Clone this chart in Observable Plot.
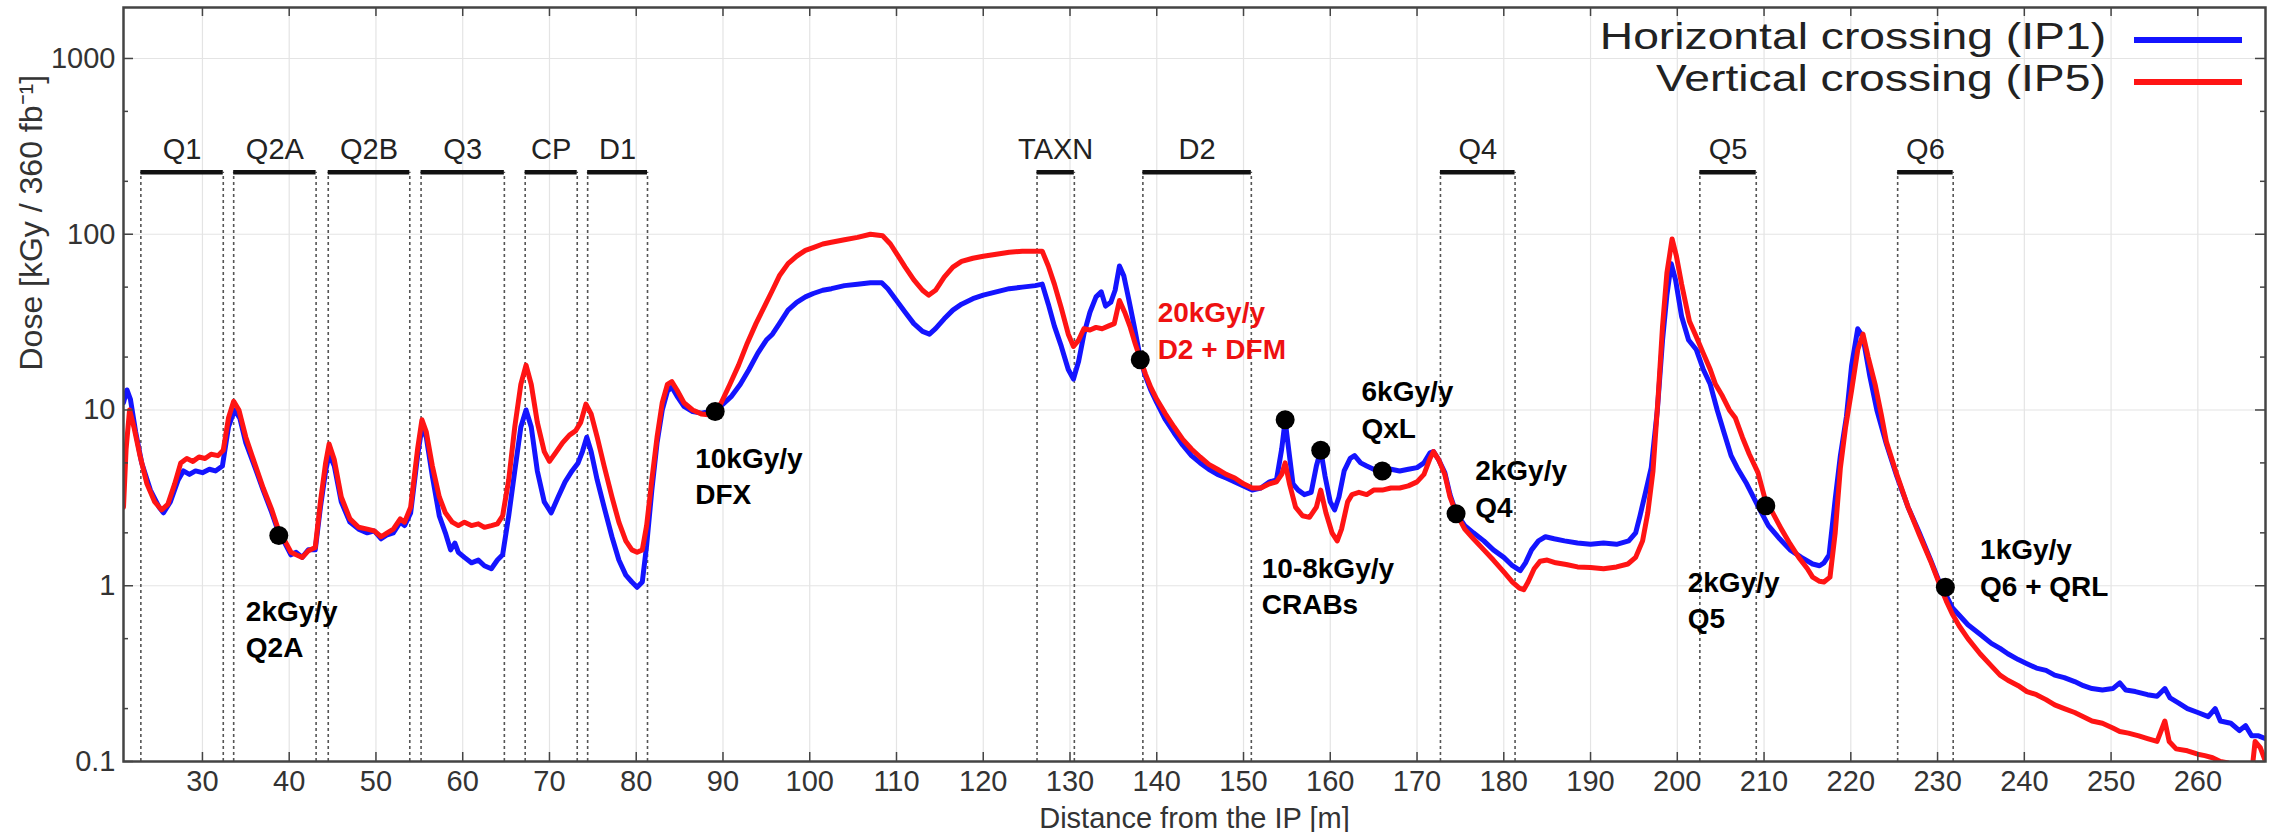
<!DOCTYPE html>
<html>
<head>
<meta charset="utf-8">
<script src="https://cdn.jsdelivr.net/npm/d3@7"></script>
<script src="https://cdn.jsdelivr.net/npm/@observablehq/plot@0.6"></script>
<style>
  html, body { margin: 0; padding: 0; background: #fff; }
  #wrap { position: relative; width: 2273px; height: 832px; font-family: "Liberation Sans", Arial, Helvetica, sans-serif; }
  #legend { position: absolute; top: 16px; right: 31px; font-size: 37px; line-height: 42px; color: #222; }
  #legend .row { display: flex; justify-content: flex-end; align-items: center; height: 42px; }
  #legend .lbl { display: inline-block; transform: scaleX(1.25); transform-origin: right center; }
  #legend .sw { display: inline-block; width: 108px; height: 6px; margin-left: 28px; transform: translateY(3px); }
</style>
</head>
<body>
<div id="wrap">
  <div id="chart"></div>
  <div id="legend"></div>
</div>
<script>
// ---- series: [distance from IP (m), dose (kGy / 360 fb^-1)] ----
const ip1Horizontal = [
[20.9,11],[21.3,13],[21.7,11.5],[22.3,7.5],[23,5],[24,3.5],[25,2.8],[25.5,2.6],[26.3,3.0],[27.2,4.0],[27.8,4.5],[28.5,4.3],[29.2,4.5],[30,4.4],[30.8,4.6],[31.5,4.5],[32.3,4.8],[33,8],[33.7,10],[34.3,9],[35,6.5],[36,4.8],[37,3.5],[38,2.6],[38.8,2.0],[39.5,1.75],[40.2,1.5],[40.8,1.55],[41.5,1.45],[42.2,1.6],[43,1.6],[43.6,2.8],[44.2,4.5],[44.6,5.6],[45.2,4.8],[46,3],[47,2.3],[48,2.1],[49,2.0],[49.8,2.05],[50.6,1.85],[51.3,1.95],[52,2.0],[52.8,2.3],[53.3,2.2],[54,2.6],[54.8,5.5],[55.3,8],[55.8,7],[56.5,4.2],[57.3,2.5],[58,2.0],[58.6,1.6],[59.1,1.75],[59.5,1.55],[60.2,1.45],[61,1.35],[61.8,1.4],[62.5,1.3],[63.3,1.25],[64,1.4],[64.6,1.5],[65.3,2.5],[66,4.5],[66.7,8],[67.3,10],[67.9,8],[68.6,4.5],[69.4,3.0],[70.2,2.6],[71,3.2],[71.8,3.9],[72.6,4.5],[73.3,5.0],[73.8,5.8],[74.3,7.0],[74.8,5.8],[75.5,4],[76.3,2.8],[77.2,1.9],[78,1.4],[78.8,1.15],[79.5,1.05],[80.1,0.98],[80.7,1.05],[81.2,1.7],[81.8,3.5],[82.4,6.5],[83,10],[83.6,12.8],[84.1,13.5],[84.7,12],[85.5,10.5],[86.5,9.8],[87.5,9.6],[88.5,9.8],[89.2,10],[90,10.8],[91,12],[92,14],[93,17],[94,21],[95,25],[95.7,27],[96.5,31],[97.5,37],[98.5,41],[99.5,44],[100.4,46],[101.5,48],[102.5,49],[104,51],[105.5,52],[107,53],[108.3,53],[109,49],[110,42],[111,36],[112,31],[113,28],[113.8,27],[114.5,29],[115.5,33],[116.5,37],[117.5,40],[118.8,43],[120,45],[121.5,47],[123,49],[124.5,50],[126,51],[126.8,52],[127.5,40],[128.2,30],[129,23],[129.8,17],[130.4,15],[131,19],[131.6,27],[132.3,36],[133,44],[133.6,47],[134.1,39],[134.7,41],[135.2,48],[135.7,66],[136.2,58],[136.8,42],[137.4,30],[138,21],[138.6,16],[139.3,13],[140,11],[141,8.8],[142,7.4],[143,6.3],[144,5.5],[145,5.0],[146,4.6],[147,4.3],[148,4.1],[149,3.9],[150,3.7],[151,3.5],[152,3.6],[153,3.9],[153.8,4.0],[154.4,6],[154.8,8.7],[155.2,6],[155.7,3.8],[156.3,3.5],[157,3.3],[157.8,3.4],[158.4,4.8],[158.9,5.9],[159.4,4.2],[160,3.0],[160.5,2.7],[161,3.2],[161.6,4.5],[162.3,5.3],[162.8,5.5],[163.5,5.0],[164.2,4.8],[165,4.6],[166,4.5],[167,4.6],[168,4.5],[169,4.6],[170,4.7],[170.8,5.0],[171.5,5.7],[171.9,5.8],[172.5,5.2],[173.2,4.4],[173.8,3.3],[174.5,2.6],[175.5,2.2],[176.5,2.0],[177.7,1.8],[178.8,1.6],[180,1.45],[181,1.3],[181.9,1.22],[182.5,1.35],[183.2,1.6],[184,1.8],[184.8,1.9],[185.8,1.85],[187,1.8],[188.5,1.75],[190,1.72],[191.5,1.75],[193,1.72],[194.4,1.8],[195.2,2.0],[195.7,2.5],[196.4,3.5],[197,4.7],[197.7,10],[198.3,25],[198.8,45],[199.3,68],[199.8,55],[200.5,34],[201.3,25],[202.2,22],[203,17],[203.8,14],[204.6,10],[205.4,7.4],[206.2,5.5],[207,4.6],[208,3.8],[209.2,2.9],[210.5,2.2],[211.8,1.85],[213,1.6],[214.3,1.45],[215.6,1.33],[216.4,1.3],[216.9,1.35],[217.5,1.5],[218.2,3.1],[218.8,5.5],[219.5,9.2],[220.1,18],[220.8,29],[221.4,26],[222.2,15.5],[223,10],[224.1,6.4],[225.3,4.2],[226.6,2.8],[227.9,2.0],[229.2,1.4],[230.3,1.02],[231,0.88],[231.7,0.75],[232.5,0.68],[233.5,0.6],[234.9,0.53],[236.2,0.47],[237.2,0.44],[238.1,0.41],[239.3,0.38],[240.3,0.36],[241.4,0.34],[242.5,0.33],[243.5,0.31],[244.6,0.3],[245.8,0.285],[246.8,0.27],[247.8,0.26],[249,0.255],[250.2,0.26],[251,0.28],[251.7,0.255],[252.8,0.25],[254.2,0.24],[255.3,0.235],[256.2,0.26],[256.8,0.23],[257.8,0.215],[258.8,0.2],[260,0.19],[261.2,0.18],[262,0.2],[262.6,0.17],[263.8,0.165],[264.8,0.15],[265.5,0.16],[266.2,0.14],[267,0.14],[267.8,0.135]
];
const ip5Vertical = [
[20.9,2.8],[21.2,6],[21.6,10],[22.1,8],[22.8,5.5],[23.6,3.8],[24.5,3.0],[25.3,2.7],[26,2.9],[26.8,3.8],[27.5,5.0],[28.2,5.3],[28.9,5.1],[29.6,5.4],[30.3,5.3],[31,5.6],[31.8,5.5],[32.4,5.9],[33,9],[33.6,11.2],[34.2,10],[35,7],[36,5],[37,3.6],[38,2.7],[38.8,2.05],[39.5,1.8],[40.2,1.55],[40.8,1.5],[41.5,1.45],[42.2,1.58],[43,1.65],[43.6,3],[44.2,5],[44.6,6.4],[45.2,5.2],[46,3.2],[47,2.4],[48,2.15],[49,2.1],[49.8,2.05],[50.6,1.9],[51.3,2.0],[52,2.1],[52.8,2.4],[53.3,2.3],[54,2.8],[54.8,6],[55.3,8.8],[55.8,7.5],[56.5,4.8],[57.3,3.2],[58,2.6],[58.8,2.3],[59.5,2.2],[60.2,2.3],[61,2.2],[61.8,2.25],[62.5,2.15],[63.3,2.2],[64,2.25],[64.6,2.5],[65.3,4],[66,8],[66.7,14],[67.3,18],[67.9,14],[68.6,8.5],[69.4,5.8],[70,5.1],[70.7,5.7],[71.5,6.5],[72.3,7.2],[73,7.6],[73.6,8.5],[74.2,10.8],[74.8,9.5],[75.5,7],[76.3,4.8],[77.2,3.2],[78,2.3],[78.8,1.8],[79.5,1.6],[80.1,1.55],[80.7,1.6],[81.2,2.2],[81.8,4],[82.4,7],[83,11],[83.6,14],[84.1,14.5],[84.7,13],[85.5,11],[86.5,10],[87.5,9.5],[88.3,9.4],[89,9.5],[89.8,11],[90.8,14],[91.8,18],[92.8,24],[93.8,31],[94.8,39],[95.7,48],[96.5,58],[97.5,68],[98.5,75],[99.5,81],[100.4,84],[101.5,88],[102.5,90],[104,93],[105.5,96],[107,100],[108.4,98],[109.3,88],[110.2,75],[111,65],[112,55],[113,48],[113.7,45],[114.5,48],[115.5,57],[116.5,65],[117.5,70],[118.8,73],[120,75],[121.5,77],[123,79],[124.5,80],[126,80],[126.8,80],[127.5,66],[128.2,52],[129,38],[129.8,27],[130.4,23],[131,25],[131.6,29],[132.3,28.5],[133,29.5],[133.7,29],[134.4,30],[135.1,31],[135.7,42],[136.3,36],[136.9,30],[137.5,24],[138.1,19.5],[138.7,16],[139.3,13.5],[140,11.5],[141,9.5],[142,8],[143,6.8],[144,6],[145,5.4],[146,4.9],[147,4.6],[148,4.3],[149,4.1],[150,3.8],[151,3.6],[152,3.6],[153,3.8],[153.8,3.9],[154.4,4.3],[154.8,5.0],[155.3,3.8],[156,2.8],[156.8,2.5],[157.6,2.45],[158.4,2.8],[158.9,3.5],[159.5,2.6],[160.2,2.0],[160.8,1.8],[161.3,2.1],[162,3.0],[162.5,3.3],[163.3,3.4],[164.2,3.3],[165,3.5],[166,3.5],[167,3.6],[168,3.6],[169,3.7],[170,3.9],[170.8,4.3],[171.5,5.3],[171.9,5.8],[172.5,5.2],[173.2,4.3],[173.8,3.2],[174.5,2.6],[175.5,2.1],[176.5,1.85],[177.7,1.6],[178.8,1.4],[180,1.2],[181,1.05],[181.8,0.97],[182.3,0.95],[182.8,1.05],[183.5,1.25],[184.2,1.38],[185,1.4],[186,1.35],[187.2,1.32],[188.5,1.28],[190,1.27],[191.5,1.25],[193,1.28],[194.3,1.33],[195.2,1.45],[196,1.8],[196.6,2.6],[197.2,4.5],[197.8,12],[198.3,30],[198.8,60],[199.4,94],[199.9,75],[200.5,52],[201.4,32],[202.2,26],[203,21],[203.8,17],[204.4,14],[205.2,12],[206,10],[206.7,9],[207.5,7],[208.3,5.6],[209.3,4.4],[210.2,3.0],[211,2.6],[212,2.1],[213,1.73],[214,1.45],[215,1.25],[215.6,1.12],[216.4,1.06],[216.9,1.05],[217.6,1.12],[218.2,2.0],[218.8,4.7],[219.4,8],[220.1,13],[220.8,22],[221.4,27],[222,20],[222.8,14],[223.5,9.5],[224.1,6.6],[225.3,4.3],[226.6,2.8],[227.9,1.95],[229.2,1.38],[230.3,1.0],[231,0.82],[231.7,0.69],[232.5,0.59],[233.5,0.5],[234.9,0.41],[236.2,0.35],[237.2,0.31],[238.1,0.29],[239.3,0.27],[240.3,0.25],[241.4,0.24],[242.5,0.225],[243.5,0.21],[244.6,0.2],[245.8,0.19],[246.8,0.18],[247.8,0.17],[249,0.165],[250.2,0.155],[251,0.148],[252,0.145],[253.2,0.14],[254.2,0.135],[255.3,0.13],[256.2,0.17],[256.7,0.13],[257.5,0.118],[258.8,0.115],[260,0.11],[260.8,0.108],[261.7,0.105],[262.6,0.1],[263.5,0.098],[264.5,0.09],[266.2,0.085],[266.6,0.13],[267.2,0.12],[267.8,0.1]
];

// ---- magnet / element extents along the beam line (m) ----
const magnetNames  = ["Q1","Q2A","Q2B","Q3","CP","D1","TAXN","D2","Q4","Q5","Q6"];
const magnetStart  = [22.9,33.6,44.5,55.2,67.2,74.4,126.2,138.4,172.7,202.6,225.4];
const magnetEnd    = [32.4,43.1,53.9,64.8,73.2,81.3,130.5,150.9,181.3,209.1,231.8];
const magnetBarDose = 225;   // dose level at which the element bars are drawn

// ---- highlighted dose points ----
const markerX    = [38.8, 89.1, 138.1, 154.8, 158.9, 166.0, 174.5, 210.2, 230.9];
const markerDose = [1.93, 9.8, 19.3, 8.8, 5.9, 4.5, 2.57, 2.85, 0.98];

// ---- annotations (anchored at left edge, block centre) ----
const noteTexts = ["2kGy/y\nQ2A","10kGy/y\nDFX","20kGy/y\nD2 + DFM","6kGy/y\nQxL","10-8kGy/y\nCRABs","2kGy/y\nQ4","2kGy/y\nQ5","1kGy/y\nQ6 + QRL"];
const noteX      = [35.0, 86.8, 140.1, 163.6, 152.1, 176.7, 201.2, 234.9];
const noteDose   = [0.58, 4.3, 29, 10.3, 1.02, 3.65, 0.85, 1.3];

// ---- axes ----
const xTicks = [30,40,50,60,70,80,90,100,110,120,130,140,150,160,170,180,190,200,210,220,230,240,250,260];
const yTicks = [0.1, 1, 10, 100, 1000];
const yMinorTicks = [0.2,0.5,2,5,20,50,200,500];
const seriesNames = ["Horizontal crossing (IP1)", "Vertical crossing (IP5)"];
const xLabel = "Distance from the IP [m]";
const yLabel = "Dose [kGy / 360 fb\u207B\u00B9]";

const BLUE = "#1414ff", RED = "#ff1414";
const W = 2273, H = 832, mT = 7, mB = 71, mL = 123, mR = 8;
const fW = W - mL - mR, fH = H - mT - mB;

const magnets = magnetNames.map((name, i) => ({name, start: magnetStart[i], end: magnetEnd[i]}));
const edges = magnets.flatMap(m => [m.start, m.end]);
const markers = markerX.map((x, i) => ({x, y: markerDose[i]}));
const notes = noteTexts.map((t, i) => ({text: t, x: noteX[i], y: noteDose[i]}));
const toObj = arr => arr.map(([x, y]) => ({x, y}));

const chart = Plot.plot({
  width: W, height: H,
  marginTop: mT, marginBottom: mB, marginLeft: mL, marginRight: mR,
  x: {domain: [20.9, 267.8]},
  y: {type: "log", domain: [0.1, 1950]},
  style: {fontFamily: "'Liberation Sans', Arial, Helvetica, sans-serif", fontSize: "29px", color: "#333", background: "white"},
  marks: [
    // grid
    Plot.ruleX(xTicks, {x: d => d, stroke: "#e4e4e4", strokeWidth: 1.2}),
    Plot.ruleY(yTicks, {y: d => d, stroke: "#e4e4e4", strokeWidth: 1.2}),
    // element boundaries (dashed) and bars
    Plot.ruleX(edges, {x: d => d, y1: 0.1, y2: magnetBarDose, stroke: "#555", strokeWidth: 1.6, strokeDasharray: "3,3"}),
    Plot.ruleY(magnets, {x1: "start", x2: "end", y: magnetBarDose, stroke: "#111", strokeWidth: 4.5}),
    Plot.text(magnets, {x: d => (d.start + d.end) / 2, y: magnetBarDose, text: "name", dy: -23, lineAnchor: "middle", fontSize: 29, fill: "#222"}),
    // curves
    Plot.line(toObj(ip1Horizontal), {x: "x", y: "y", stroke: BLUE, strokeWidth: 5, clip: true}),
    Plot.line(toObj(ip5Vertical), {x: "x", y: "y", stroke: RED, strokeWidth: 5, clip: true}),
    // markers
    Plot.dot(markers, {x: "x", y: "y", r: 9.5, fill: "#000"}),
    // annotations
    Plot.text(notes, {x: "x", y: "y", text: "text", textAnchor: "start", lineAnchor: "middle", lineHeight: 1.3,
      fontSize: 28, fontWeight: "bold", fill: d => d.text.includes("DFM") ? "#ee1111" : "#000"}),
    // inward ticks
    Plot.ruleX(xTicks, {x: d => d, stroke: "#444", strokeWidth: 1.5, insetTop: fH - 9}),
    Plot.ruleX(xTicks, {x: d => d, stroke: "#444", strokeWidth: 1.5, insetBottom: fH - 9}),
    Plot.ruleY(yTicks, {y: d => d, stroke: "#444", strokeWidth: 1.5, insetRight: fW - 10}),
    Plot.ruleY(yTicks, {y: d => d, stroke: "#444", strokeWidth: 1.5, insetLeft: fW - 10}),
    Plot.ruleY(yMinorTicks, {y: d => d, stroke: "#444", strokeWidth: 1.5, insetRight: fW - 5}),
    Plot.ruleY(yMinorTicks, {y: d => d, stroke: "#444", strokeWidth: 1.5, insetLeft: fW - 5}),
    // axes
    Plot.axisX({ticks: xTicks, tickSize: 0, tickPadding: 9, label: null, fontSize: 29}),
    Plot.text([xLabel], {frameAnchor: "bottom", lineAnchor: "bottom", dy: 66, fontSize: 29, fill: "#333"}),
    Plot.axisY({ticks: yTicks, tickSize: 0, tickPadding: 8, tickFormat: d => String(d), label: null, fontSize: 29}),
    Plot.text([yLabel], {frameAnchor: "left", rotate: -90, dx: -92, dy: -14, lineAnchor: "middle", fontSize: 32, fill: "#333"}),
    Plot.frame({stroke: "#444", strokeWidth: 2.5})
  ]
});
document.getElementById("chart").appendChild(chart);

// legend overlay (inside the frame, top right)
const legend = document.getElementById("legend");
[[seriesNames[0], BLUE], [seriesNames[1], RED]].forEach(([name, color]) => {
  const row = document.createElement("div");
  row.className = "row";
  const t = document.createElement("span");
  t.className = "lbl";
  t.textContent = name;
  const sw = document.createElement("span");
  sw.className = "sw";
  sw.style.background = color;
  row.appendChild(t); row.appendChild(sw);
  legend.appendChild(row);
});
</script>
</body>
</html>
